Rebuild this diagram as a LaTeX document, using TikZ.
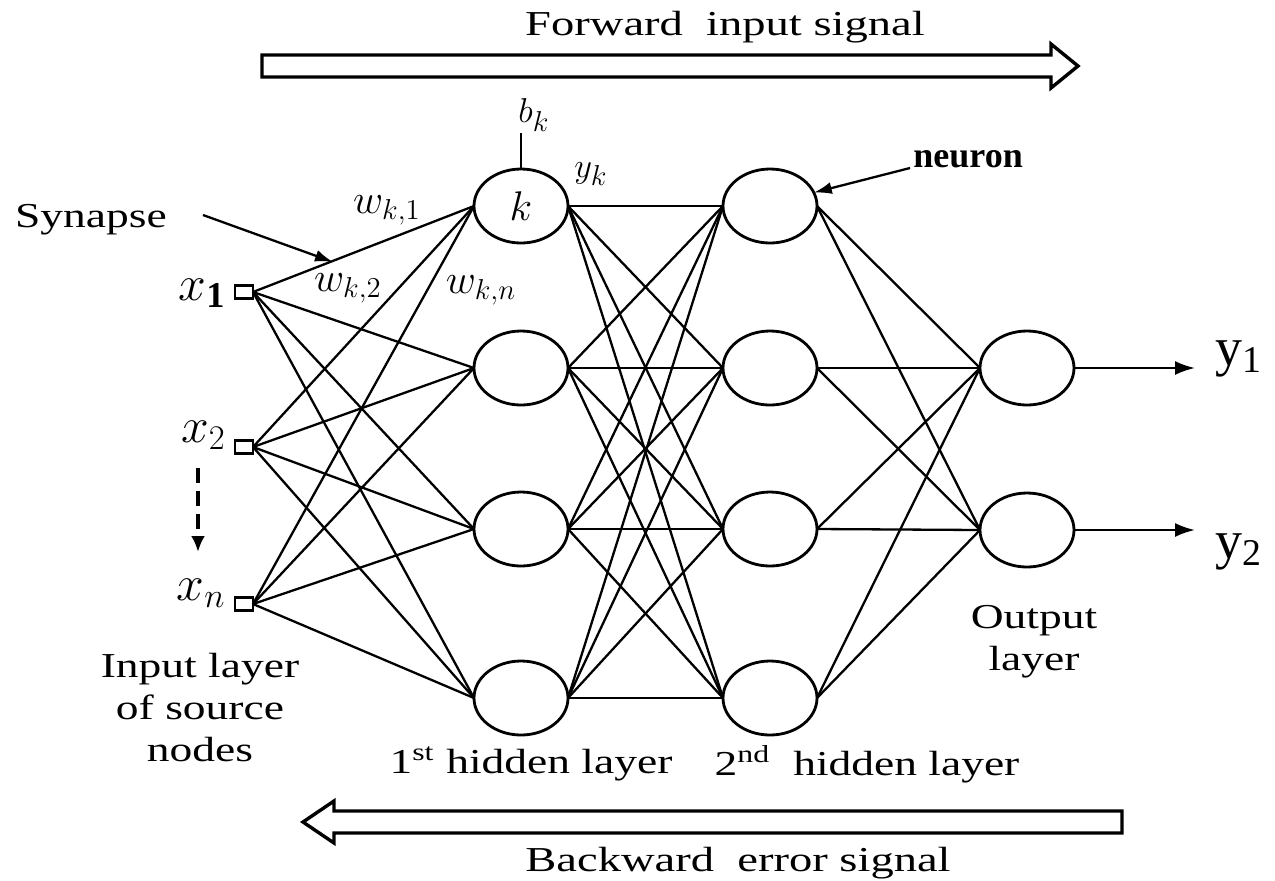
\documentclass[tikz,border=0pt]{standalone}
\usepackage{fontspec}
\setmainfont{Liberation Serif}
\usetikzlibrary{shapes.geometric,arrows.meta}
\newcommand{\stretchtxt}[1]{\scalebox{1.3}[1]{#1}}
\begin{document}
\begin{tikzpicture}[x=0.5pt,y=-0.5pt,
  neuron/.style={draw, ellipse, line width=1.4pt, minimum width=47pt, minimum height=37pt, inner sep=0pt, outer sep=0pt},
  src/.style={draw, rectangle, line width=1.1pt, minimum width=9pt, minimum height=6.5pt, inner sep=0pt, outer sep=0pt},
  conn/.style={line width=1.15pt},
  bigarrow/.style={line width=1.7pt, line join=miter},
  lbl/.style={font=\fontsize{17.5}{21}\selectfont, align=center, inner sep=0pt},
  sig/.style={font=\fontsize{17.5}{21}\selectfont, inner sep=0pt},
  xlbl/.style={font=\fontsize{26}{30}\selectfont, inner sep=0pt},
  wlbl/.style={font=\fontsize{20}{24}\selectfont, inner sep=0pt},
  mlbl/.style={font=\fontsize{19}{23}\selectfont, inner sep=0pt},
  ylbl/.style={font=\fontsize{27}{32}\selectfont, inner sep=0pt}
]
\useasboundingbox (0,0) rectangle (1275,880);

% input squares
\node[src] (i1) at (244,292) {};
\node[src] (i2) at (244,447) {};
\node[src] (i3) at (244,604) {};
\node[xlbl, anchor=base east] (lx1) at (226,300) {$x_{\mathbf{1}}$};
\node[xlbl, anchor=base east] (lx2) at (226,442) {$x_2$};
\node[xlbl, anchor=base east] (lx3) at (226,600) {$x_n$};

% hidden layers
\foreach \n/\y in {1/206,2/368,3/529,4/698} {
  \node[neuron] (ha\n) at (521,\y) {};
  \node[neuron] (hb\n) at (770,\y) {};
}
\node[neuron] (o1) at (1027,368) {};
\node[neuron] (o2) at (1027,530) {};

% connections
\foreach \i in {1,2,3} \foreach \j in {1,...,4} \draw[conn] (i\i.east) -- (ha\j.west);
\foreach \i in {1,...,4} \foreach \j in {1,...,4} \draw[conn] (ha\i.east) -- (hb\j.west);
\foreach \i in {1,...,4} \foreach \j in {1,2} \draw[conn] (hb\i.east) -- (o\j.west);

% outputs
\coordinate (e1) at (1195,368);
\coordinate (e2) at (1195,530);
\draw[conn, -{Latex[length=10pt,width=7pt]}] (o1.east) -- (e1);
\draw[conn, -{Latex[length=10pt,width=7pt]}] (o2.east) -- (e2);
\node[ylbl, anchor=base west] (ly1) at (1215,365) {y\textsubscript{1}};
\node[ylbl, anchor=base west] (ly2) at (1215,558) {y\textsubscript{2}};

% neuron k labels
\node[font=\fontsize{22}{26}\selectfont] (klbl) at (ha1) {$k$};
\node[mlbl] (bk) at (534,115) {$b_k$};
\draw[conn] (ha1.north) -- ++(0,-36);
\node[mlbl] (yk) at (591,174) {$y_k$};
\node[wlbl] (w1) at (387,210) {$w_{k,1}$};
\node[wlbl] (w2) at (348,288) {$w_{k,2}$};
\node[wlbl] (wn) at (481,290) {$w_{k,n}$};

% synapse
\node[lbl] (syn) at (91,220) {\stretchtxt{Synapse}};
\coordinate (synstart) at (203,215);
\coordinate (syntip) at (333,262);
\draw[conn, -{Latex[length=9pt,width=6pt]}] (synstart) -- (syntip);

% neuron pointer
\node[font=\bfseries\fontsize{18}{22}\selectfont, inner sep=0pt, anchor=base west] (nlbl) at (913,167) {neuron};
\coordinate (nstart) at (910,168);
\draw[conn, -{Latex[length=9pt,width=6pt]}] (nstart) -- (hb1.17);

% dashed arrow
\coordinate (ds) at (198,468);
\coordinate (de) at (198,552);
\draw[line width=1.6pt, dash pattern=on 7.5pt off 4pt, -{Latex[length=8pt,width=7pt]}] (ds) -- (de);

% layer labels
\node[lbl] (inlbl) at (200,708) {\stretchtxt{Input layer}\\\stretchtxt{of source}\\\stretchtxt{nodes}};
\node[lbl, anchor=base] (h1lbl) at (531,773) {\stretchtxt{1\textsuperscript{st} hidden layer}};
\node[lbl, anchor=base] (h2lbl) at (867,775) {\stretchtxt{2\textsuperscript{nd}\ \ hidden layer}};
\node[lbl] (outlbl) at (1034,642) {\stretchtxt{Output}\\\stretchtxt{layer}};

% forward arrow
\draw[bigarrow] (262,55) -- (1051,55) -- (1051,44) -- (1078,66) -- (1051,88) -- (1051,77) -- (262,77) -- cycle;
\node[sig, anchor=base] (fwd) at (725,35) {\scalebox{1.33}[1]{Forward\ \ input signal}};

% backward arrow
\draw[bigarrow] (1122,811) -- (334,811) -- (334,801) -- (303,822) -- (334,843) -- (334,833) -- (1122,833) -- cycle;
\node[sig, anchor=base] (bwd) at (738,871) {\scalebox{1.33}[1]{Backward\ \ error signal}};
\end{tikzpicture}
\end{document}
